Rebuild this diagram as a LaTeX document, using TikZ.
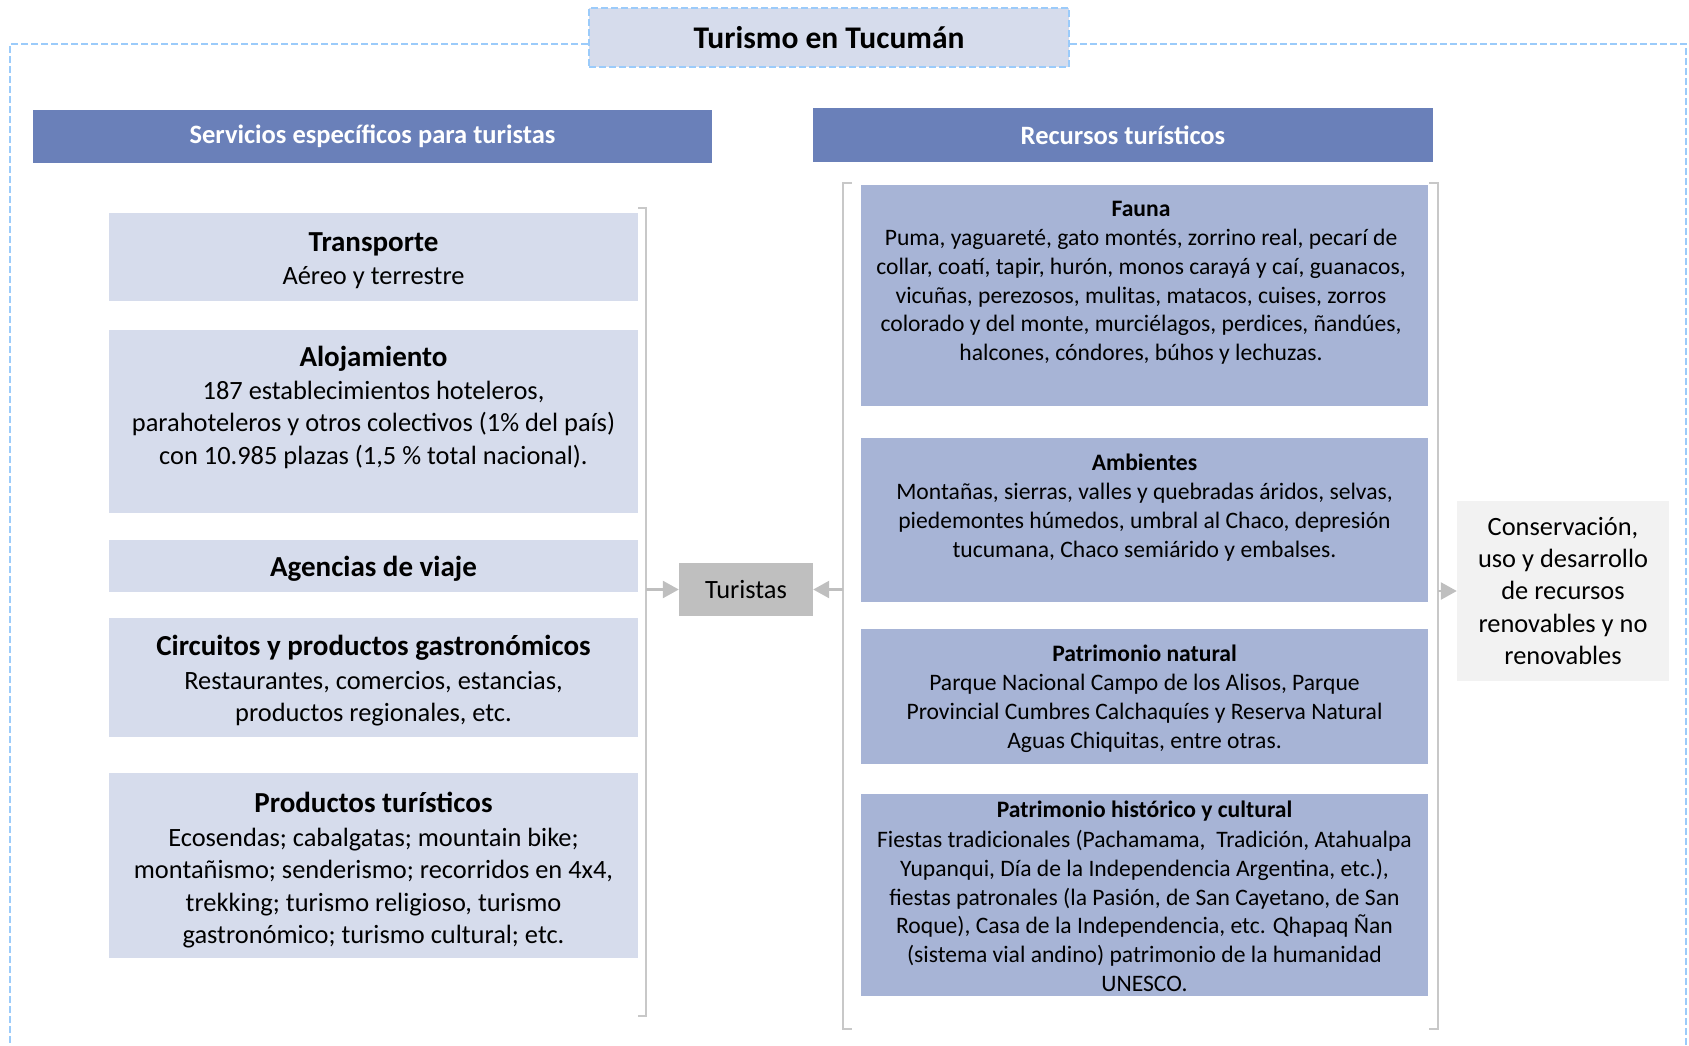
\documentclass[tikz,border=0pt]{standalone}
\usepackage{fontspec}
\setmainfont{Carlito}
\usetikzlibrary{arrows.meta,positioning}
\definecolor{tucframe}{RGB}{155,203,250}
\definecolor{tuclight}{RGB}{214,220,236}
\definecolor{tuchead}{RGB}{106,128,185}
\definecolor{tucres}{RGB}{167,180,214}
\definecolor{tucgray}{RGB}{191,191,191}
\definecolor{tucpale}{RGB}{242,242,242}
\definecolor{tucline}{RGB}{200,200,200}

\begin{document}
\begin{tikzpicture}[x=1pt,y=-1pt,
  frame/.style={draw=tucframe,line width=2.5pt,dash pattern=on 7pt off 3pt},
  titlebox/.style={frame,line width=2pt,fill=tuclight,inner sep=0pt,font=\fontsize{31.5}{38}\selectfont\bfseries},
  header/.style={fill=tuchead,text=white,font=\fontsize{26.5}{32}\selectfont\bfseries,inner sep=0pt},
  svcbox/.style={fill=tuclight,inner sep=0pt,minimum width=529pt},
  resbox/.style={fill=tucres,inner sep=0pt,minimum width=567pt},
  svctitle/.style={font=\fontsize{29}{34}\selectfont\bfseries,anchor=base,inner sep=0pt},
  svctext/.style={font=\fontsize{26.4}{32.3}\selectfont,align=center,anchor=north,inner sep=0pt},
  restitle/.style={font=\fontsize{23.6}{28.8}\selectfont\bfseries,anchor=base,inner sep=0pt},
  restext/.style={font=\fontsize{23.6}{28.8}\selectfont,align=center,anchor=north,inner sep=0pt},
  bracket/.style={draw=tucline,line width=2pt},
  flow/.style={-{Triangle[length=16pt,width=17pt]},draw=tucgray,line width=2.5pt}]

\path[use as bounding box] (0,0) rectangle (1689,1045);

% title and outer frame
\node[titlebox,minimum width=480pt,minimum height=59pt] (title) at (829,37.5) {Turismo en Tucumán};
\draw[frame] (title.west |- 10,44) -- (10,44) -- (10,1045);
\draw[frame] (title.east |- 10,44) -- (1686,44) -- (1686,1045);

\node[header,minimum width=679pt,minimum height=53pt] (lhead) at (372.5,136.5) {Servicios específicos para turistas};
\node[header,minimum width=620pt,minimum height=54pt] (rhead) at (1123,135) {Recursos turísticos};

% servicios
\node[svcbox,minimum height=88pt] (trans) at (373.5,257) {};
\node[svctitle] (transT) at (373.5,251) {Transporte};
\node[svctext] (transB) at (373.5,266) {Aéreo y terrestre};

\node[svcbox,minimum height=183pt] (aloj) at (373.5,421.5) {};
\node[svctitle] (alojT) at (373.5,366.5) {Alojamiento};
\node[svctext] (alojB) at (373.5,381) {187 establecimientos hoteleros,\\parahoteleros y otros colectivos (1\% del país)\\con 10.985 plazas (1,5 \% total nacional).};

\node[svcbox,minimum height=52pt] (agen) at (373.5,566) {};
\node[svctitle] (agenT) at (373.5,576.5) {Agencias de viaje};

\node[svcbox,minimum height=119pt] (circ) at (373.5,677.5) {};
\node[svctitle] (circT) at (373.5,655) {Circuitos y productos gastronómicos};
\node[svctext] (circB) at (373.5,671) {Restaurantes, comercios, estancias,\\productos regionales, etc.};

\node[svcbox,minimum height=185pt] (prod) at (373.5,865.5) {};
\node[svctitle] (prodT) at (373.5,812.5) {Productos turísticos};
\node[svctext] (prodB) at (373.5,828) {Ecosendas; cabalgatas; mountain bike;\\montañismo; senderismo; recorridos en 4x4,\\trekking; turismo religioso, turismo\\gastronómico; turismo cultural; etc.};

% recursos
\node[resbox,minimum height=221pt] (fauna) at (1144.5,295.5) {};
\node[restitle] (faunaT) at (1141,216.5) {Fauna};
\node[restext] (faunaB) at (1141,229) {Puma, yaguareté, gato montés, zorrino real, pecarí de\\collar, coatí, tapir, hurón, monos carayá y caí, guanacos,\\vicuñas, perezosos, mulitas, matacos, cuises, zorros\\colorado y del monte, murciélagos, perdices, ñandúes,\\halcones, cóndores, búhos y lechuzas.};

\node[resbox,minimum height=164pt] (amb) at (1144.5,520) {};
\node[restitle] (ambT) at (1144.5,470.5) {Ambientes};
\node[restext] (ambB) at (1144.5,483) {Montañas, sierras, valles y quebradas áridos, selvas,\\piedemontes húmedos, umbral al Chaco, depresión\\tucumana, Chaco semiárido y embalses.};

\node[resbox,minimum height=135pt] (patn) at (1144.5,696.5) {};
\node[restitle] (patnT) at (1144.5,661.5) {Patrimonio natural};
\node[restext] (patnB) at (1144.5,674) {Parque Nacional Campo de los Alisos, Parque\\Provincial Cumbres Calchaquíes y Reserva Natural\\Aguas Chiquitas, entre otras.};

\node[resbox,minimum height=202pt] (path) at (1144.5,895) {};
\node[restitle] (pathT) at (1144.5,817.5) {Patrimonio histórico y cultural};
\node[restext] (pathB) at (1144.5,830) {Fiestas tradicionales (Pachamama,\ \ Tradición, Atahualpa\\Yupanqui, Día de la Independencia Argentina, etc.),\\fiestas patronales (la Pasión, de San Cayetano, de San\\Roque), Casa de la Independencia, etc. Qhapaq Ñan\\(sistema vial andino) patrimonio de la humanidad\\UNESCO.};

% centre and right
\node[fill=tucgray,inner sep=0pt,minimum width=134pt,minimum height=53pt,font=\fontsize{26.4}{32.3}\selectfont] (tur) at (746,589.5) {Turistas};
\node[fill=tucpale,inner sep=0pt,minimum width=212pt,minimum height=180pt,align=center,font=\fontsize{26.4}{32.3}\selectfont] (cons) at (1563,591) {Conservación,\\uso y desarrollo\\de recursos\\renovables y no\\renovables};

\draw[bracket] (638,208) -- (646,208) -- (646,1016) -- (638,1016);
\draw[bracket] (852,183) -- (843,183) -- (843,1029) -- (852,1029);
\draw[bracket] (1429,183) -- (1438,183) -- (1438,1029) -- (1429,1029);
\coordinate (lbr) at (646,589.5);
\coordinate (rbr) at (843,589.5);
\coordinate (cbr) at (1438,591);
\draw[flow] (lbr) -- (tur.west);
\draw[flow] (rbr) -- (tur.east);
\draw[flow] (cbr) -- (cons.west);

\end{tikzpicture}
\end{document}
